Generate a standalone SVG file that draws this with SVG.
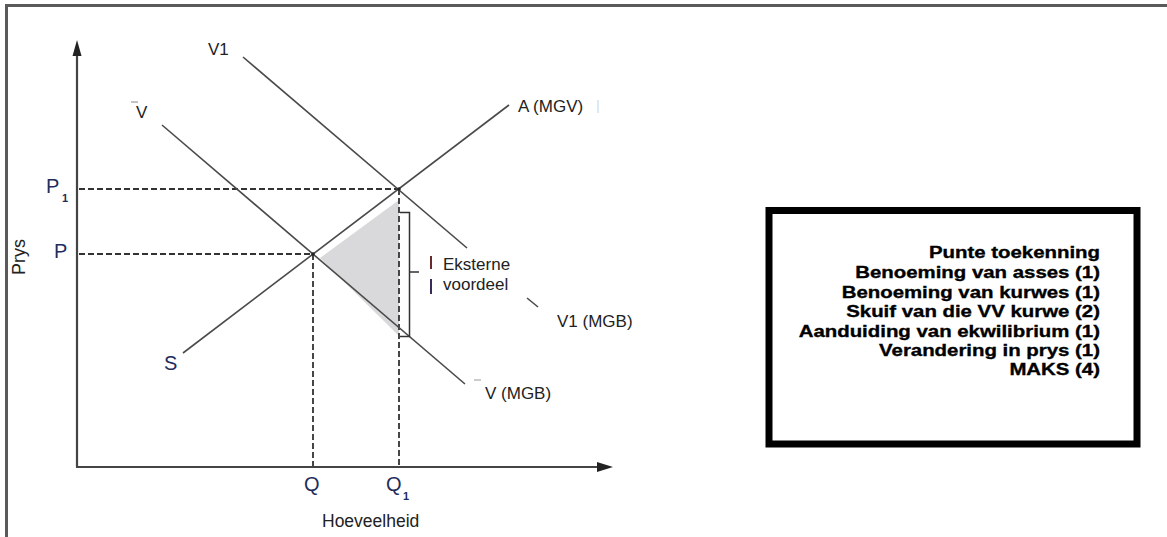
<svg xmlns="http://www.w3.org/2000/svg" width="1167" height="537" viewBox="0 0 1167 537">
<style>
.lbl{font-family:"Liberation Sans",Arial,sans-serif;font-size:17px;fill:#222}
.nav{font-family:"Liberation Sans",Arial,sans-serif;font-size:20px;fill:#1f2d5c}
.sub{font-family:"Liberation Sans",Arial,sans-serif;font-size:11px;font-weight:bold;fill:#1f2d5c}
.box{font-family:"Liberation Sans",Arial,sans-serif;font-size:17px;font-weight:bold;fill:#000;stroke:#000;stroke-width:0.35;text-anchor:end}
.curve{stroke:#4a4a4a;stroke-width:1.6;fill:none}
.axis{stroke:#444;stroke-width:2.2;fill:none}
.dash{stroke:#333;stroke-width:1.8;stroke-dasharray:6 3;fill:none}
.brk{stroke:#333;stroke-width:1.5;fill:none}
</style>
<rect width="1167" height="537" fill="#fff"/>
<g id="frame">
<path d="M6.5 537 V5.5 H1167" stroke="#5a5a5a" stroke-width="3" fill="none"/>
</g>
<g id="shade">
<polygon points="320,258 399,200 399,336" fill="#d9d9db"/>
</g>
<g id="connectors">
<line class="axis" x1="77" y1="52" x2="77" y2="467"/>
<polygon points="77,40 72.5,56 81.5,56" fill="#222"/>
<line class="axis" x1="76" y1="467" x2="600" y2="467"/>
<polygon points="613,467 597,462 597,472" fill="#222"/>
<line class="dash" x1="79" y1="189" x2="399" y2="189"/>
<line class="dash" x1="79" y1="254" x2="313" y2="254"/>
<line class="dash" x1="313" y1="254" x2="313" y2="466"/>
<line class="dash" x1="399" y1="189" x2="399" y2="466"/>
<line class="curve" x1="243" y1="57" x2="467" y2="248"/>
<line class="curve" x1="527" y1="298" x2="538" y2="307"/>
<line class="curve" x1="162" y1="125" x2="465" y2="384"/>
<line class="curve" x1="183" y1="353" x2="509" y2="105"/>
<circle cx="313" cy="254" r="1.8" fill="#222"/>
<circle cx="399" cy="189" r="1.8" fill="#222"/>
<path class="brk" d="M400 212.5 H409.5 V336.5 H400 M409.5 272 H419"/>
</g>
<g id="label-V1"><text class="lbl" x="208" y="55">V1</text></g>
<g id="label-V">
<line x1="131" y1="102" x2="138" y2="102" stroke="#888" stroke-width="1"/>
<text class="lbl" x="136" y="118">V</text>
</g>
<g id="label-A"><text class="lbl" x="518" y="112">A (MGV)</text>
<line x1="598" y1="100" x2="598" y2="113" stroke="#cfe3f5" stroke-width="1.5"/></g>
<g id="label-V1MGB"><text class="lbl" x="557" y="327">V1 (MGB)</text></g>
<g id="label-VMGB">
<line x1="474" y1="380" x2="481" y2="380" stroke="#999" stroke-width="1"/>
<text class="lbl" x="485" y="399">V (MGB)</text>
</g>
<g id="label-eksterne">
<line x1="431" y1="256" x2="431" y2="269" stroke="#6b2a2a" stroke-width="2"/>
<line x1="431" y1="279" x2="431" y2="294" stroke="#3a2a5a" stroke-width="2"/>
<text class="lbl" x="443" y="270">Eksterne</text>
<text class="lbl" x="443" y="290">voordeel</text>
</g>
<g id="label-S"><text class="nav" x="164" y="370">S</text></g>
<g id="label-P1"><text class="nav" x="46" y="193">P</text><text class="sub" x="62" y="202">1</text></g>
<g id="label-P"><text class="nav" x="54" y="258">P</text></g>
<g id="label-Q"><text class="nav" x="304" y="491">Q</text></g>
<g id="label-Q1"><text class="nav" x="386" y="491">Q</text><text class="sub" x="403" y="500">1</text></g>
<g id="label-prys"><text class="lbl" transform="translate(25 257) rotate(-90)" text-anchor="middle" style="font-size:18px">Prys</text></g>
<g id="label-hoeveelheid"><text class="lbl" x="322" y="527" style="font-size:17.5px">Hoeveelheid</text></g>
<g id="marks-box">
<rect x="769" y="210.5" width="368" height="233.5" fill="#fff" stroke="#000" stroke-width="7"/>
<g transform="translate(1100 0) scale(1.2 1)">
<text class="box" x="0" y="258.5">Punte toekenning</text>
<text class="box" x="0" y="278.3">Benoeming van asses (1)</text>
<text class="box" x="0" y="297.8">Benoeming van kurwes (1)</text>
<text class="box" x="0" y="317.5">Skuif van die VV kurwe (2)</text>
<text class="box" x="0" y="337">Aanduiding van ekwilibrium (1)</text>
<text class="box" x="0" y="356">Verandering in prys (1)</text>
<text class="box" x="0" y="375.5">MAKS (4)</text>
</g>
</g>
</svg>
